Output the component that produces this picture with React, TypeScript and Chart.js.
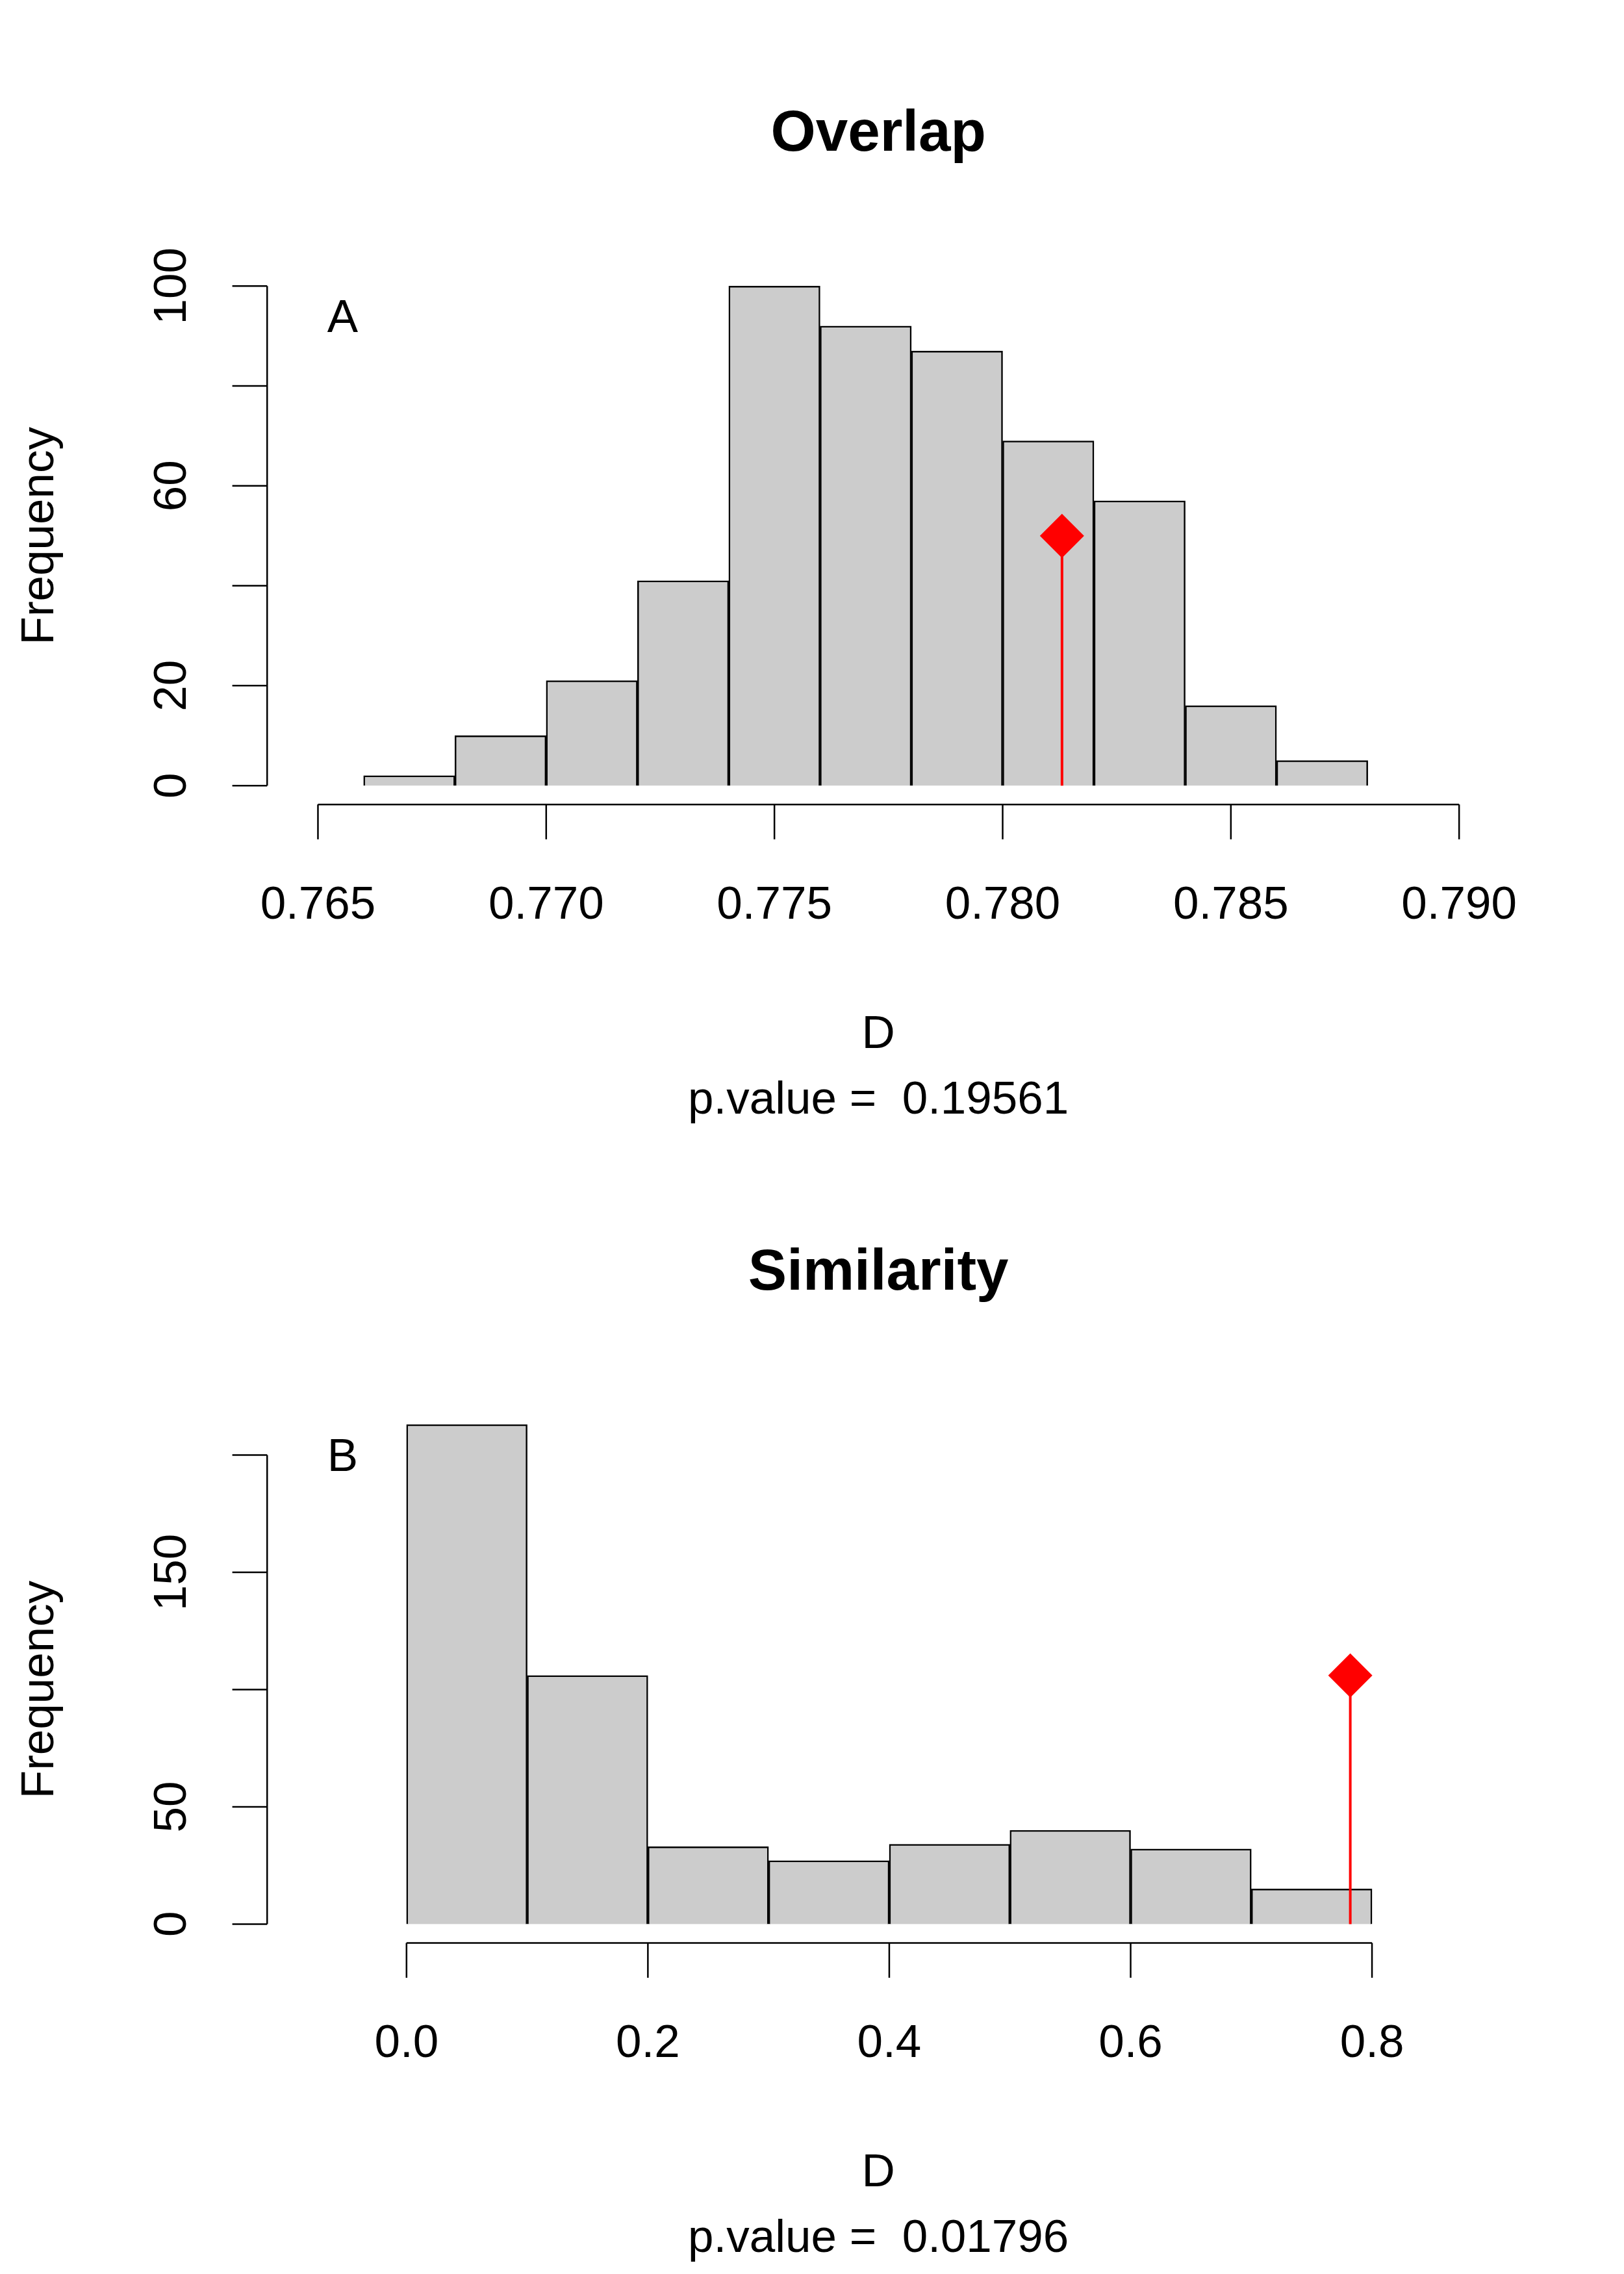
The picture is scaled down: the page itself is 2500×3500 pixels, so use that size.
import React, { useRef, useEffect } from 'react';
import Chart from 'chart.js/auto';

// Panel A (Overlap)
const overlapMids = [0.767, 0.769, 0.771, 0.773, 0.775, 0.777, 0.779, 0.781, 0.783, 0.785, 0.787];
const overlapCounts = [2, 10, 21, 41, 100, 92, 87, 69, 57, 16, 5];
const overlapObs = { x: 0.7813, y: 50 };
const overlapXTicks = [0.765, 0.77, 0.775, 0.78, 0.785, 0.79];
const overlapXLabels = ['0.765', '0.770', '0.775', '0.780', '0.785', '0.790'];
const overlapYTicks = [0, 20, 40, 60, 80, 100];
const overlapYLabels = ['0', '20', '', '60', '', '100'];

// Panel B (Similarity)
const simMids = [0.05, 0.15, 0.25, 0.35, 0.45, 0.55, 0.65, 0.75];
const simCounts = [213, 106, 33, 27, 34, 40, 32, 15];
const simObs = { x: 0.782, y: 106 };
const simXTicks = [0, 0.2, 0.4, 0.6, 0.8];
const simXLabels = ['0.0', '0.2', '0.4', '0.6', '0.8'];
const simYTicks = [0, 50, 100, 150, 200];
const simYLabels = ['0', '50', '', '150', ''];

const FONT = '"Liberation Sans", Arial, sans-serif';
const S = 2.235;

interface PanelProps {
  title: string; letter: string; pval: string;
  mids: number[]; counts: number[]; obs: { x: number; y: number };
  xTicks: number[]; xLabels: string[]; yTicks: number[]; yLabels: string[];
  xmin: number; xmax: number; ymax: number; off: number;
  pad: { left: number; right: number; top: number; bottom: number };
  lay: { title: number; xAxis: number; xLab: number; d: number; p: number; letterY: number };
}

const Panel: React.FC<PanelProps> = (p) => {
  const ref = useRef<HTMLCanvasElement | null>(null);
  useEffect(() => {
    const ctx = ref.current!.getContext('2d')!;
    const Y = (v: number) => v * S - p.off;
    const rAxes = {
      id: 'rAxes',
      afterDraw(chart: any) {
        const c = chart.ctx;
        const xs = chart.scales.x, ys = chart.scales.y;
        c.save();
        c.strokeStyle = '#000'; c.fillStyle = '#000'; c.lineWidth = 2.5;
        const xa = Y(p.lay.xAxis);
        const x0 = xs.getPixelForValue(p.xTicks[0]);
        const x1 = xs.getPixelForValue(p.xTicks[p.xTicks.length - 1]);
        c.beginPath(); c.moveTo(x0, xa); c.lineTo(x1, xa); c.stroke();
        c.font = `71px ${FONT}`; c.textAlign = 'center'; c.textBaseline = 'middle';
        p.xTicks.forEach((t, i) => {
          const px = xs.getPixelForValue(t);
          c.beginPath(); c.moveTo(px, xa); c.lineTo(px, xa + 24 * S); c.stroke();
          c.fillText(p.xLabels[i], px, Y(p.lay.xLab));
        });
        const ax = 184 * S;
        const y0 = ys.getPixelForValue(p.yTicks[0]);
        const y1 = ys.getPixelForValue(p.yTicks[p.yTicks.length - 1]);
        c.beginPath(); c.moveTo(ax, y0); c.lineTo(ax, y1); c.stroke();
        p.yTicks.forEach((t, i) => {
          const py = ys.getPixelForValue(t);
          c.beginPath(); c.moveTo(ax, py); c.lineTo(ax - 24 * S, py); c.stroke();
          if (p.yLabels[i]) {
            c.save(); c.translate(119 * S, py); c.rotate(-Math.PI / 2);
            c.fillText(p.yLabels[i], 0, 0); c.restore();
          }
        });
        c.save(); c.translate(28 * S, (y0 + y1) / 2); c.rotate(-Math.PI / 2);
        c.fillText('Frequency', 0, 0); c.restore();
        c.fillText(p.letter, 236 * S, Y(p.lay.letterY));
        c.fillText('D', 605 * S, Y(p.lay.d));
        c.fillText(p.pval, 605 * S, Y(p.lay.p));
        c.font = `bold 89px ${FONT}`;
        c.fillText(p.title, 605 * S, Y(p.lay.title));
        c.restore();
      },
    };
    const chart = new Chart(ctx, {
      type: 'bar',
      data: {
        datasets: [
          {
            type: 'bar', order: 2,
            data: p.mids.map((m, i) => ({ x: m, y: p.counts[i] })),
            backgroundColor: '#cccccc', borderColor: '#000', borderWidth: 2.5,
            barPercentage: 1, categoryPercentage: 1, clip: false as any,
          } as any,
          {
            type: 'line', order: 1,
            data: [{ x: p.obs.x, y: 0 }, { x: p.obs.x, y: p.obs.y }],
            borderColor: '#ff0000', borderWidth: 4,
            pointStyle: 'rectRot', pointRadius: [0, 34], pointBackgroundColor: '#ff0000',
            pointBorderWidth: 0, clip: false as any,
          } as any,
        ],
      },
      options: {
        animation: false, responsive: false,
        layout: { padding: p.pad },
        plugins: { legend: { display: false }, tooltip: { enabled: false } },
        scales: {
          x: { type: 'linear', min: p.xmin, max: p.xmax, display: false, offset: false },
          y: { type: 'linear', min: 0, max: p.ymax, display: false },
        },
      },
      plugins: [rAxes],
    });
    return () => chart.destroy();
  }, []);
  return <canvas ref={ref} width={2500} height={1750} style={{ display: 'block', width: 2500, height: 1750 }} />;
};

const App: React.FC = () => {
  useEffect(() => { document.body.style.margin = '0'; document.body.style.background = '#fff'; }, []);
  return (
    <div style={{ width: 2500, height: 3500, background: '#fff' }}>
      <Panel title="Overlap" letter="A" pval="p.value =  0.19561"
        mids={overlapMids} counts={overlapCounts} obs={overlapObs}
        xTicks={overlapXTicks} xLabels={overlapXLabels} yTicks={overlapYTicks} yLabels={overlapYLabels}
        xmin={0.765} xmax={0.79} ymax={100} off={0}
        pad={{ left: 219 * S, right: 2500 - 1005 * S, top: 197 * S, bottom: 1750 - 541 * S }}
        lay={{ title: 93, xAxis: 554, xLab: 624, d: 713, p: 758, letterY: 220 }} />
      <Panel title="Similarity" letter="B" pval="p.value =  0.01796"
        mids={simMids} counts={simCounts} obs={simObs}
        xTicks={simXTicks} xLabels={simXLabels} yTicks={simYTicks} yLabels={simYLabels}
        xmin={0} xmax={0.8} ymax={213} off={1750}
        pad={{ left: 280 * S, right: 2500 - 945 * S, top: 981 * S - 1750, bottom: 3500 - 1325 * S }}
        lay={{ title: 877, xAxis: 1338, xLab: 1408, d: 1497, p: 1542, letterY: 1004 }} />
    </div>
  );
};

export default App;
